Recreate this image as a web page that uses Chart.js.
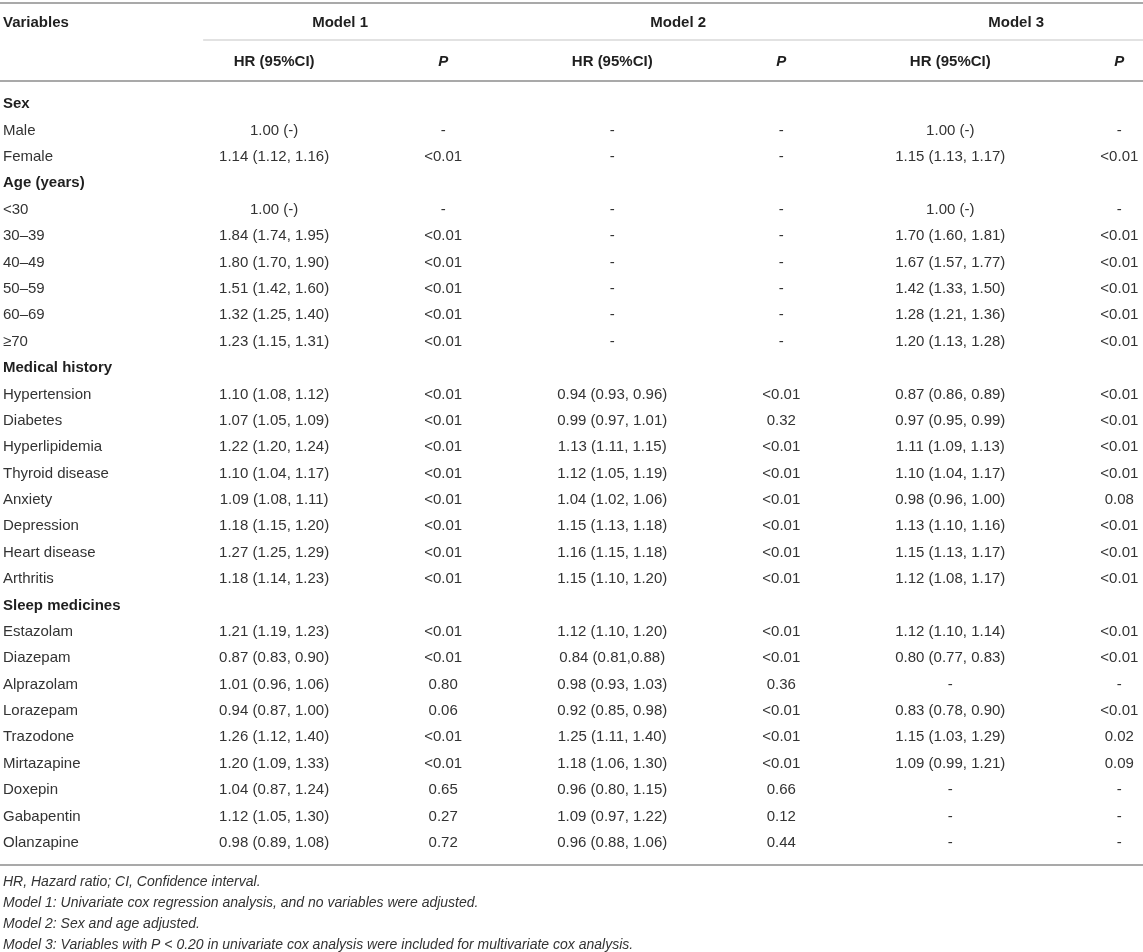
<!DOCTYPE html>
<html>
<head>
<meta charset="utf-8">
<script src="https://cdn.jsdelivr.net/npm/chart.js@4.4.1/dist/chart.umd.min.js"></script>
<style>
  html, body { margin: 0; padding: 0; background: #fff; }
  #wrap { position: relative; width: 1143px; height: 952px; }
</style>
</head>
<body>
<div id="wrap"><canvas id="tableChart"></canvas></div>
<script>
const rowLabels = ['Sex', 'Male', 'Female', 'Age (years)', '<30', '30–39', '40–49', '50–59', '60–69', '≥70',
  'Medical history', 'Hypertension', 'Diabetes', 'Hyperlipidemia', 'Thyroid disease', 'Anxiety', 'Depression',
  'Heart disease', 'Arthritis', 'Sleep medicines', 'Estazolam', 'Diazepam', 'Alprazolam', 'Lorazepam',
  'Trazodone', 'Mirtazapine', 'Doxepin', 'Gabapentin', 'Olanzapine'];
const sectionRows = ['Sex', 'Age (years)', 'Medical history', 'Sleep medicines'];

const modelNames = ['Model 1', 'Model 2', 'Model 3'];
const subHeaders = ['HR (95%CI)', 'P'];

const model1HR = ['', '1.00 (-)', '1.14 (1.12, 1.16)', '', '1.00 (-)', '1.84 (1.74, 1.95)', '1.80 (1.70, 1.90)',
  '1.51 (1.42, 1.60)', '1.32 (1.25, 1.40)', '1.23 (1.15, 1.31)', '', '1.10 (1.08, 1.12)', '1.07 (1.05, 1.09)',
  '1.22 (1.20, 1.24)', '1.10 (1.04, 1.17)', '1.09 (1.08, 1.11)', '1.18 (1.15, 1.20)', '1.27 (1.25, 1.29)',
  '1.18 (1.14, 1.23)', '', '1.21 (1.19, 1.23)', '0.87 (0.83, 0.90)', '1.01 (0.96, 1.06)', '0.94 (0.87, 1.00)',
  '1.26 (1.12, 1.40)', '1.20 (1.09, 1.33)', '1.04 (0.87, 1.24)', '1.12 (1.05, 1.30)', '0.98 (0.89, 1.08)'];
const model1P = ['', '-', '<0.01', '', '-', '<0.01', '<0.01', '<0.01', '<0.01', '<0.01', '',
  '<0.01', '<0.01', '<0.01', '<0.01', '<0.01', '<0.01', '<0.01', '<0.01', '',
  '<0.01', '<0.01', '0.80', '0.06', '<0.01', '<0.01', '0.65', '0.27', '0.72'];
const model2HR = ['', '-', '-', '', '-', '-', '-', '-', '-', '-', '', '0.94 (0.93, 0.96)', '0.99 (0.97, 1.01)',
  '1.13 (1.11, 1.15)', '1.12 (1.05, 1.19)', '1.04 (1.02, 1.06)', '1.15 (1.13, 1.18)', '1.16 (1.15, 1.18)',
  '1.15 (1.10, 1.20)', '', '1.12 (1.10, 1.20)', '0.84 (0.81,0.88)', '0.98 (0.93, 1.03)', '0.92 (0.85, 0.98)',
  '1.25 (1.11, 1.40)', '1.18 (1.06, 1.30)', '0.96 (0.80, 1.15)', '1.09 (0.97, 1.22)', '0.96 (0.88, 1.06)'];
const model2P = ['', '-', '-', '', '-', '-', '-', '-', '-', '-', '',
  '<0.01', '0.32', '<0.01', '<0.01', '<0.01', '<0.01', '<0.01', '<0.01', '',
  '<0.01', '<0.01', '0.36', '<0.01', '<0.01', '<0.01', '0.66', '0.12', '0.44'];
const model3HR = ['', '1.00 (-)', '1.15 (1.13, 1.17)', '', '1.00 (-)', '1.70 (1.60, 1.81)', '1.67 (1.57, 1.77)',
  '1.42 (1.33, 1.50)', '1.28 (1.21, 1.36)', '1.20 (1.13, 1.28)', '', '0.87 (0.86, 0.89)', '0.97 (0.95, 0.99)',
  '1.11 (1.09, 1.13)', '1.10 (1.04, 1.17)', '0.98 (0.96, 1.00)', '1.13 (1.10, 1.16)', '1.15 (1.13, 1.17)',
  '1.12 (1.08, 1.17)', '', '1.12 (1.10, 1.14)', '0.80 (0.77, 0.83)', '-', '0.83 (0.78, 0.90)',
  '1.15 (1.03, 1.29)', '1.09 (0.99, 1.21)', '-', '-', '-'];
const model3P = ['', '-', '<0.01', '', '-', '<0.01', '<0.01', '<0.01', '<0.01', '<0.01', '',
  '<0.01', '<0.01', '<0.01', '<0.01', '0.08', '<0.01', '<0.01', '<0.01', '',
  '<0.01', '<0.01', '-', '<0.01', '0.02', '0.09', '-', '-', '-'];

const footnotes = [
  'HR, Hazard ratio; CI, Confidence interval.',
  'Model 1: Univariate cox regression analysis, and no variables were adjusted.',
  'Model 2: Sex and age adjusted.',
  'Model 3: Variables with P < 0.20 in univariate cox analysis were included for multivariate cox analysis.'
];

const columns = [model1HR, model1P, model2HR, model2P, model3HR, model3P];

const FONT = '"Liberation Sans", Arial, Helvetica, sans-serif';
const TEXT = '#333';
const HEAD = '#1f1f1f';
const RULE = '#a9a9a9';

// each column is a scatter dataset; the point sits at (column, row) and the plugin writes the cell text there
const datasets = columns.map((col, c) => ({
  label: 'col' + (c + 1),
  data: col.map((v, r) => ({ x: c + 1, y: r })),
  cells: col,
  pointRadius: 0,
  pointHoverRadius: 0
}));

const tablePlugin = {
  id: 'tablePlugin',
  afterDatasetsDraw(chart) {
    const ctx = chart.ctx;
    ctx.save();
    ctx.font = '15px ' + FONT;
    ctx.fillStyle = TEXT;
    ctx.textAlign = 'center';
    ctx.textBaseline = 'middle';
    chart.data.datasets.forEach((ds, i) => {
      chart.getDatasetMeta(i).data.forEach((pt, j) => {
        const txt = ds.cells[j];
        if (txt) ctx.fillText(txt, pt.x, pt.y);
      });
    });
    ctx.restore();
  },
  afterDraw(chart) {
    const ctx = chart.ctx;
    const xs = chart.scales.x;
    const area = chart.chartArea;
    const W = chart.width;
    ctx.save();

    const hline = (y, x0, x1, w, col) => {
      ctx.beginPath();
      ctx.lineWidth = w;
      ctx.strokeStyle = col;
      ctx.moveTo(x0, y);
      ctx.lineTo(x1, y);
      ctx.stroke();
    };

    hline(3, 0, W, 2, RULE);
    hline(40, xs.getPixelForValue(0.58), W, 1.2, '#c6c6c6');
    hline(81, 0, W, 2, RULE);
    hline(area.bottom + 9, 0, W, 2, RULE);

    ctx.fillStyle = HEAD;
    ctx.textBaseline = 'middle';
    ctx.font = 'bold 15px ' + FONT;
    ctx.textAlign = 'left';
    ctx.fillText('Variables', 3, 23);

    ctx.textAlign = 'center';
    modelNames.forEach((m, k) => {
      const c = 1 + k * 2;
      ctx.font = 'bold 15px ' + FONT;
      ctx.fillText(m, xs.getPixelForValue(c + 0.39), 23);
      ctx.fillText(subHeaders[0], xs.getPixelForValue(c), 62);
      ctx.font = 'italic bold 15px ' + FONT;
      ctx.fillText(subHeaders[1], xs.getPixelForValue(c + 1), 62);
    });

    ctx.font = 'italic 14px ' + FONT;
    ctx.fillStyle = TEXT;
    ctx.textAlign = 'left';
    footnotes.forEach((f, i) => ctx.fillText(f, 3, area.bottom + 26 + i * 21));
    ctx.restore();
  }
};

new Chart(document.getElementById('tableChart'), {
  type: 'scatter',
  data: { datasets },
  options: {
    responsive: true,
    maintainAspectRatio: false,
    animation: false,
    events: [],
    layout: { padding: { left: 3, top: 91, bottom: 96, right: 0 } },
    plugins: { legend: { display: false }, tooltip: { enabled: false } },
    scales: {
      x: {
        type: 'linear',
        display: false,
        min: 0.52,
        max: 6.14
      },
      y: {
        type: 'category',
        labels: rowLabels,
        offset: true,
        grid: { display: false },
        border: { display: false },
        afterFit: (scale) => { scale.width = 190; },
        ticks: {
          autoSkip: false,
          crossAlign: 'far',
          padding: 0,
          color: (c) => sectionRows.includes(rowLabels[c.index]) ? HEAD : TEXT,
          font: (c) => ({
            family: FONT,
            size: 15,
            weight: sectionRows.includes(rowLabels[c.index]) ? 'bold' : 'normal'
          })
        }
      }
    }
  },
  plugins: [tablePlugin]
});
</script>
</body>
</html>
